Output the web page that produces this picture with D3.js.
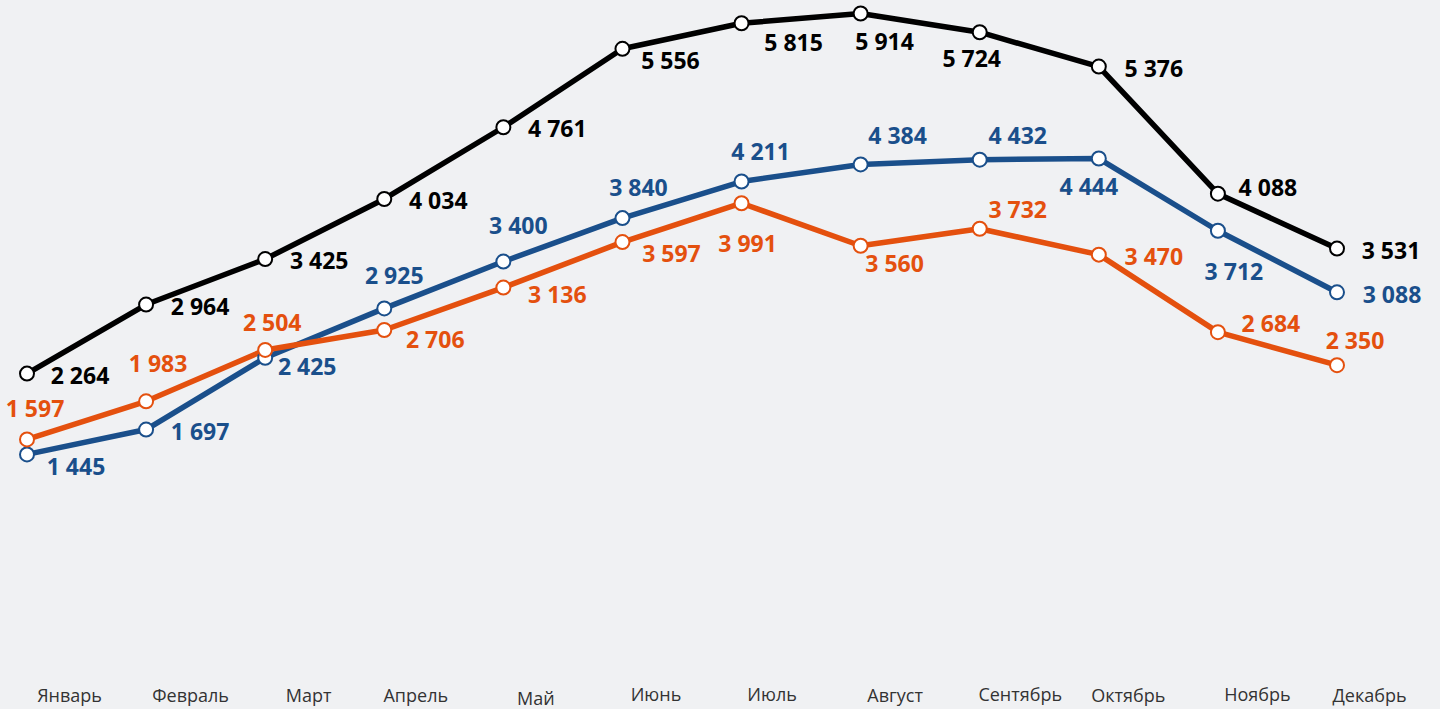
<!DOCTYPE html>
<html>
<head>
<meta charset="utf-8">
<script src="https://cdn.jsdelivr.net/npm/d3@7"></script>
<style>
    html, body { margin: 0; padding: 0; background: #f0f1f3; }
    svg { display: block; font-family: "Open Sans", sans-serif; }
</style>
</head>
<body>
<div id="wrapper"></div>
<script>
// месяцы и значения трёх рядов
const months = ["Январь", "Февраль", "Март", "Апрель", "Май", "Июнь",
    "Июль", "Август", "Сентябрь", "Октябрь", "Ноябрь", "Декабрь"];
const blackValues = [2264, 2964, 3425, 4034, 4761, 5556, 5815, 5914, 5724, 5376, 4088, 3531];
const blueValues = [1445, 1697, 2425, 2925, 3400, 3840, 4211, 4384, 4432, 4444, 3712, 3088];
const orangeValues = [1597, 1983, 2504, 2706, 3136, 3597, 3991, 3560, 3732, 3470, 2684, 2350];

// смещения подписей относительно точки (центр текста)
const blackLabelPos = [[53,2],[54,2],[54,2],[54,2],[54,1],[48,12],[52,19],[24,28],[-8,26],[55,2],[50,-6],[54,2]];
const blueLabelPos = [[49,12],[54,2],[42,9],[10,-33],[15,-36],[16,-30],[19,-30],[37,-29],[38,-24],[-10,28],[16,41],[55,2]];
const orangeLabelPos = [[8,-31],[12,-38],[7,-27],[51,10],[54,7],[49,12],[6,40],[34,18],[38,-19],[55,2],[53,-8],[18,-24]];
// подписи месяцев немного сдвинуты
const tickNudge = [[42,0],[44,0],[43,0],[31,0],[32,3],[33,-1],[30,-1],[34,0],[40,-1],[29,0],[39,-1],[32,0]];

const series = [
    {values: blackValues, color: "#000000", labels: blackLabelPos},
    {values: blueValues, color: "#1a4f8b", labels: blueLabelPos},
    {values: orangeValues, color: "#e4500e", labels: orangeLabelPos}
];

const dimension = {width: 1440, height: 709};

const svg = d3.select("#wrapper").append("svg")
    .attr("width", dimension.width)
    .attr("height", dimension.height);

const xScaler = d3.scalePoint()
    .domain(months)
    .range([27, 1337]);

const yScaler = d3.scaleLinear()
    .domain([0, 6000])
    .range([597, 5]);

const fmt = v => d3.format(",")(v).replace(/,/g, " ");

const lineGenerator = d3.line()
    .x((d, i) => xScaler(months[i]))
    .y(d => yScaler(d));

series.forEach(s => {
    svg.append("path")
        .attr("d", lineGenerator(s.values))
        .attr("fill", "none")
        .attr("stroke", s.color)
        .attr("stroke-width", 5.5)
        .attr("stroke-linejoin", "round");
});

series.forEach(s => {
    svg.append("g").selectAll("circle")
        .data(s.values)
        .join("circle")
        .attr("cx", (d, i) => xScaler(months[i]))
        .attr("cy", d => yScaler(d))
        .attr("r", 7)
        .attr("fill", "#ffffff")
        .attr("stroke", s.color)
        .attr("stroke-width", 2);
});

series.forEach(s => {
    svg.append("g").selectAll("text")
        .data(s.values)
        .join("text")
        .attr("x", (d, i) => xScaler(months[i]) + s.labels[i][0])
        .attr("y", (d, i) => yScaler(d) + s.labels[i][1])
        .attr("dy", "0.36em")
        .attr("text-anchor", "middle")
        .attr("font-size", 23)
        .attr("font-weight", 700)
        .attr("fill", s.color)
        .text(d => fmt(d));
});

const xAxis = d3.axisBottom(xScaler).tickSize(0).tickPadding(0);

const axisG = svg.append("g")
    .attr("transform", "translate(0,702)")
    .call(xAxis);
axisG.select(".domain").remove();
axisG.selectAll("text")
    .attr("y", 0)
    .attr("dy", 0)
    .attr("font-family", "Open Sans")
    .attr("font-size", 18)
    .attr("fill", "#333333")
    .attr("transform", (d, i) => `translate(${tickNudge[i][0]},${tickNudge[i][1]})`);
</script>
</body>
</html>
